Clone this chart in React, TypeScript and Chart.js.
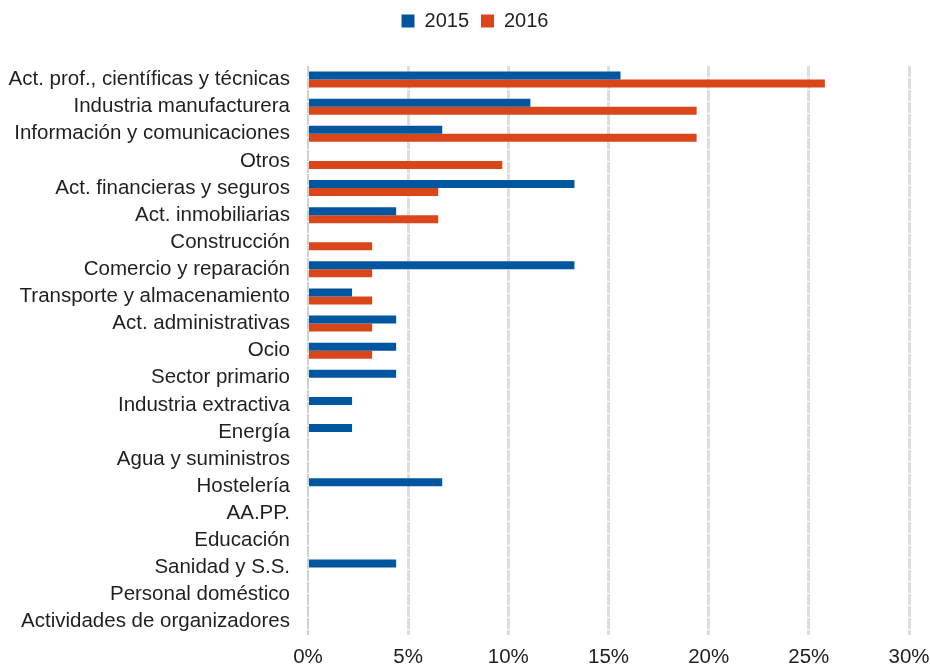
import React, { useEffect, useRef } from "react";
import { Chart, registerables } from "chart.js";

Chart.register(...registerables);

const categories = [
  "Act. prof., científicas y técnicas",
  "Industria manufacturera",
  "Información y comunicaciones",
  "Otros",
  "Act. financieras y seguros",
  "Act. inmobiliarias",
  "Construcción",
  "Comercio y reparación",
  "Transporte y almacenamiento",
  "Act. administrativas",
  "Ocio",
  "Sector primario",
  "Industria extractiva",
  "Energía",
  "Agua y suministros",
  "Hostelería",
  "AA.PP.",
  "Educación",
  "Sanidad y S.S.",
  "Personal doméstico",
  "Actividades de organizadores",
];

const values2015 = [15.6, 11.1, 6.7, 0, 13.3, 4.4, 0, 13.3, 2.2, 4.4, 4.4, 4.4, 2.2, 2.2, 0, 6.7, 0, 0, 4.4, 0, 0];
const values2016 = [25.8, 19.4, 19.4, 9.7, 6.5, 6.5, 3.2, 3.2, 3.2, 3.2, 3.2, 0, 0, 0, 0, 0, 0, 0, 0, 0, 0];

const seriesLabels = ["2015", "2016"];
const xTicks = [0, 5, 10, 15, 20, 25, 30];

const legendSpacer = {
  id: "legendSpacer",
  beforeInit(chart: any) {
    const legend = chart.legend;
    if (!legend) return;
    const origFit = legend.fit;
    legend.fit = function () {
      origFit.call(this);
      this.height += 25;
    };
  },
};

export default function App() {
  const ref = useRef<HTMLCanvasElement>(null);
  useEffect(() => {
    if (!ref.current) return;
    const font = { family: "'Liberation Sans', Arial, sans-serif", size: 20.5 };
    const chart = new Chart(ref.current, {
      type: "bar",
      plugins: [legendSpacer],
      data: {
        labels: categories,
        datasets: [
          { label: seriesLabels[0], data: values2015, backgroundColor: "#0057A0", borderWidth: 0 },
          { label: seriesLabels[1], data: values2016, backgroundColor: "#D9461A", borderWidth: 0 },
        ],
      },
      options: {
        indexAxis: "y",
        animation: false,
        responsive: true,
        maintainAspectRatio: false,
        layout: { padding: { top: -1, right: -20, bottom: -13, left: 0 } },
        datasets: { bar: { categoryPercentage: 0.59, barPercentage: 1 } },
        plugins: {
          legend: {
            position: "top",
            labels: {
              font: { family: font.family, size: 20 },
              color: "#1f1f1f",
              boxWidth: 13,
              boxHeight: 13,
              padding: 12,
            },
          },
          tooltip: { enabled: false },
        },
        scales: {
          x: {
            min: 0,
            max: 30,
            afterBuildTicks: (scale: any) => {
              scale.ticks = xTicks.map((v) => ({ value: v }));
            },
            afterFit: (scale: any) => {
              scale.paddingRight = 21;
              scale.paddingLeft = 0;
            },
            ticks: {
              font,
              color: "#1f1f1f",
              padding: 10,
              callback: (v: any) => v + "%",
            },
            grid: {
              color: (ctx: any) => (ctx.index === 0 ? "#d0d0d0" : "#dedede"),
              lineWidth: (ctx: any) => (ctx.index === 0 ? 2 : 3),
              drawTicks: false,
            },
            border: { display: false, dash: [11, 1] },
          },
          y: {
            afterFit: (scale: any) => {
              scale.width = 308;
            },
            ticks: { font, color: "#1f1f1f", padding: 18, autoSkip: false },
            grid: { display: false, drawTicks: false },
            border: { display: false },
          },
        },
      },
    });
    return () => chart.destroy();
  }, []);
  return (
    <div style={{ position: "absolute", left: 0, top: 0, width: 930, height: 667 }}>
      <canvas ref={ref} />
    </div>
  );
}
